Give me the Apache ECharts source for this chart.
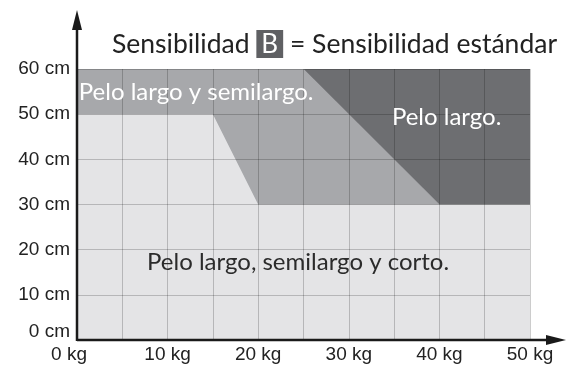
<!DOCTYPE html>
<html><head><meta charset="utf-8">
<script src="https://cdn.jsdelivr.net/npm/echarts@6/dist/echarts.min.js"></script>
<style>html,body{margin:0;padding:0;background:#fff}#c{width:573px;height:365px}</style>
</head><body><div id="c"></div>
<script>
// ---- data ----
const xTicks = [0, 10, 20, 30, 40, 50];           // kg
const yTicks = [0, 10, 20, 30, 40, 50, 60];       // cm
const regionNames = ['corto', 'semilargo', 'largo'];
const regionColors = ['#e4e4e6', '#a7a8ab', '#6d6e71'];
const regionLight = [[0,0],[50,0],[50,60],[0,60]];
const regionMedium = [[0,50],[15,50],[20,30],[40,30],[25,60],[0,60]];
const regionDark = [[25,60],[50,60],[50,30],[40,30]];
const regionLabels = ['Pelo largo, semilargo y corto.', 'Pelo largo y semilargo.', 'Pelo largo.'];
const labelPos = [[24.4,17.3],[0.2,54.9],[40.8,49.4]];
const labelAlign = ['center','left','center'];
const labelColor = ['#2b2b2b','#ffffff','#ffffff'];

const polys = [regionLight, regionMedium, regionDark];

const chart = echarts.init(document.getElementById('c'));
const L = 77, T = 69, R = 530, B = 340;
chart.setOption({
  animation: false,
  title: {
    text: '{a|Sensibilidad }{b|B}{a| = Sensibilidad estándar}',
    left: 107, top: 25,
    textStyle: {
      fontWeight: 'normal',
      rich: {
        a: {fontFamily: 'Lato', fontSize: 26.5, fontWeight: 'normal', color: '#222'},
        b: {fontFamily: 'Lato', fontSize: 26, fontWeight: 'normal', color: '#fff', backgroundColor: '#5f6063', padding: [2,5,0,5]}
      }
    }
  },
  grid: {left: L, top: T, right: 573 - R, bottom: 365 - B},
  xAxis: {
    type: 'value', min: 0, max: 50, interval: 5, z: 10,
    axisLine: {show: false}, axisTick: {show: false},
    splitLine: {show: true, lineStyle: {color: 'rgba(0,0,0,0.2)', width: 1}},
    axisLabel: {
      margin: 5, color: '#222', fontFamily: 'Liberation Sans', fontSize: 19,
      formatter: v => xTicks.indexOf(v) < 0 ? '' : (v === 0 ? '{z|0 kg}' : v + ' kg'),
      rich: {z: {fontFamily: 'Liberation Sans', fontSize: 19, color: '#222', padding: [0,16,0,0]}}
    }
  },
  yAxis: {
    type: 'value', min: 0, max: 60, interval: 10, z: 10,
    axisLine: {show: false}, axisTick: {show: false},
    splitLine: {show: true, lineStyle: {color: 'rgba(0,0,0,0.2)', width: 1}},
    axisLabel: {
      margin: 7, color: '#222', fontFamily: 'Liberation Sans', fontSize: 19,
      formatter: v => yTicks.indexOf(v) < 0 ? '' : (v === 0 ? '{z|0 cm}' : v + ' cm'),
      rich: {z: {fontFamily: 'Liberation Sans', fontSize: 19, color: '#222', padding: [0,0,16,0]}}
    }
  },
  series: [
    {
      type: 'custom', z: 2,
      data: regionNames.map((n, i) => ({name: n, value: [i]})),
      renderItem: (params, api) => {
        const i = api.value(0);
        return {
          type: 'polygon',
          shape: {points: polys[i].map(p => api.coord(p))},
          style: {fill: regionColors[i], stroke: null}
        };
      }
    },
    {
      type: 'custom', z: 20,
      data: regionLabels.map((t, i) => ({name: t, value: labelPos[i]})),
      renderItem: (params, api) => {
        const i = params.dataIndex;
        const c = api.coord([api.value(0), api.value(1)]);
        return {
          type: 'text', x: c[0], y: c[1],
          style: {text: regionLabels[i], fill: labelColor[i], fontFamily: 'Lato', fontSize: 24,
                  align: labelAlign[i], verticalAlign: 'middle'}
        };
      }
    }
  ],
  graphic: [
    {type: 'line', z: 100, shape: {x1: L, y1: B, x2: 550, y2: B}, style: {stroke: '#1a1a1a', lineWidth: 2.5}},
    {type: 'line', z: 100, shape: {x1: L, y1: B + 1, x2: L, y2: 24}, style: {stroke: '#1a1a1a', lineWidth: 2.5}},
    {type: 'polygon', z: 100, shape: {points: [[L, 10], [L - 5, 30], [L + 5, 30]]}, style: {fill: '#1a1a1a'}},
    {type: 'polygon', z: 100, shape: {points: [[566, B], [546, B - 5], [546, B + 5]]}, style: {fill: '#1a1a1a'}}
  ]
});
</script></body></html>
